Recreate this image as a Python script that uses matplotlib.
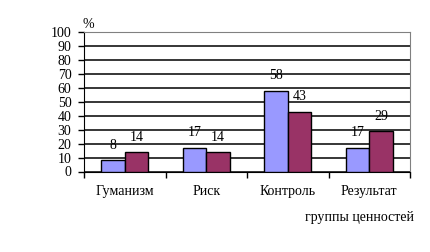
import matplotlib
matplotlib.use("Agg")
import matplotlib.pyplot as plt
import numpy as np

categories = ["Гуманизм", "Риск", "Контроль", "Результат"]
series_a = [8, 17, 58, 17]
series_b = [14, 14, 43, 29]
yticks = list(range(0, 101, 10))

plt.rcParams['font.family'] = ['Liberation Serif', 'DejaVu Serif']

fig = plt.figure(figsize=(4.30, 2.52), dpi=100)
ax = fig.add_axes([84/430, 1-171.5/252, (410-84)/430, (171.5-32)/252])

x = np.arange(len(categories))
w = 0.29
ax.bar(x - w/2, series_a, w, color="#9999FF", edgecolor="black", linewidth=1, zorder=3)
ax.bar(x + w/2, series_b, w, color="#993366", edgecolor="black", linewidth=1, zorder=3)

for xi, v in zip(x - w/2, series_a):
    ax.text(xi, v + 6, str(v), ha="center", va="bottom", fontsize=10)
for xi, v in zip(x + w/2, series_b):
    ax.text(xi, v + 6, str(v), ha="center", va="bottom", fontsize=10)

ax.set_xlim(-0.5, len(categories) - 0.5)
ax.set_ylim(0, 100)
ax.set_yticks(yticks)
ax.set_yticklabels([str(t) for t in yticks], fontsize=10)
ax.yaxis.grid(True, color="black", linewidth=1.1, zorder=0)
ax.set_axisbelow(True)

ax.set_xticks(np.arange(-0.5, len(categories), 1))
ax.set_xticklabels([])
ax.set_xticks(x, minor=True)
ax.set_xticklabels(categories, minor=True, fontsize=10)
ax.tick_params(axis="x", which="minor", length=0, pad=10)
ax.tick_params(axis="x", which="major", length=4, width=1, direction="out")
ax.tick_params(axis="y", length=4, width=1, direction="out", pad=5)

ax.spines["top"].set_color("#808080")
ax.spines["right"].set_color("#808080")
ax.spines["left"].set_color("black")
ax.spines["bottom"].set_color("black")

fig.text(88/430, 1-24/252, "%", fontsize=10, ha="center", va="center")
fig.text(414/430, 1-217/252, "группы ценностей", fontsize=10, ha="right", va="center")

fig.savefig("out.png", dpi=100)
